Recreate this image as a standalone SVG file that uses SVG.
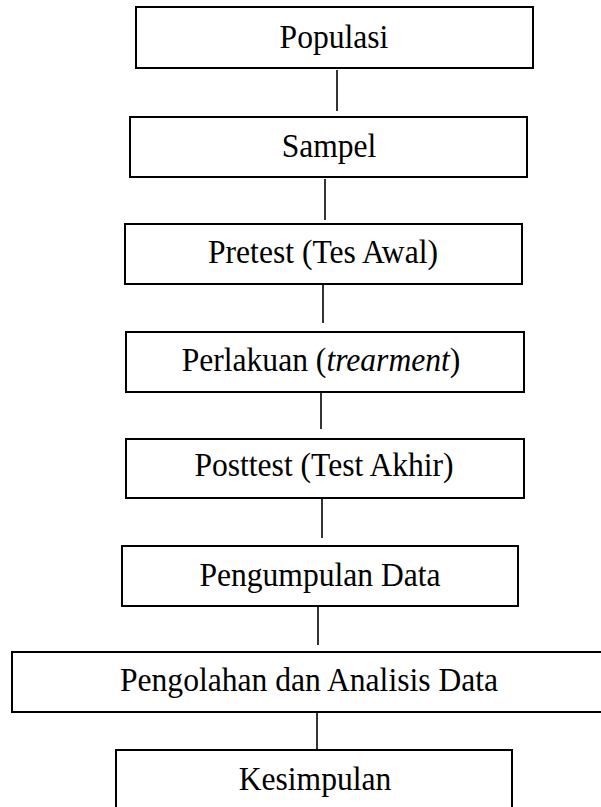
<svg xmlns="http://www.w3.org/2000/svg" width="601" height="807" viewBox="0 0 601 807">
<style>
.box{fill:#fff;stroke:#000;stroke-width:2}
.lbl{font-family:"Liberation Serif","Times New Roman",serif;font-size:31.6px;fill:#000;text-anchor:middle}
.con line{stroke:#000;stroke-width:1.6}
</style>
<rect width="601" height="807" fill="#fff"/>
<g class="con" id="connectors">
<line x1="337" y1="70" x2="337" y2="111"/>
<line x1="325" y1="179" x2="325" y2="220"/>
<line x1="323" y1="283" x2="323" y2="323"/>
<line x1="321" y1="392" x2="321" y2="429"/>
<line x1="322" y1="499" x2="322" y2="538"/>
<line x1="318" y1="607" x2="318" y2="645"/>
<line x1="317" y1="708" x2="317" y2="749"/>
</g>
<g id="populasi"><rect class="box" x="136" y="7" width="397" height="61"/><text class="lbl" transform="translate(334 48) scale(1 1.06)">Populasi</text></g>
<g id="sampel"><rect class="box" x="130" y="117" width="397" height="60"/><text class="lbl" transform="translate(329 157) scale(1 1.06)">Sampel</text></g>
<g id="pretest"><rect class="box" x="125" y="224" width="397" height="60"/><text class="lbl" transform="translate(323 263) scale(1 1.06)">Pretest (Tes Awal)</text></g>
<g id="perlakuan"><rect class="box" x="126" y="332" width="398" height="60"/><text class="lbl" transform="translate(321 371) scale(1 1.06)">Perlakuan (<tspan font-style="italic">trearment</tspan>)</text></g>
<g id="posttest"><rect class="box" x="126" y="439" width="398" height="59"/><text class="lbl" transform="translate(324 476) scale(1 1.06)">Posttest (Test Akhir)</text></g>
<g id="pengumpulan"><rect class="box" x="122" y="546" width="396" height="60"/><text class="lbl" transform="translate(320 586) scale(1 1.06)">Pengumpulan Data</text></g>
<g id="pengolahan"><rect class="box" x="12" y="652" width="600" height="60"/><text class="lbl" transform="translate(309 691) scale(1 1.06)">Pengolahan dan Analisis Data</text></g>
<g id="kesimpulan"><rect class="box" x="116" y="750" width="396" height="62"/><text class="lbl" transform="translate(315 790) scale(1 1.06)">Kesimpulan</text></g>
</svg>
